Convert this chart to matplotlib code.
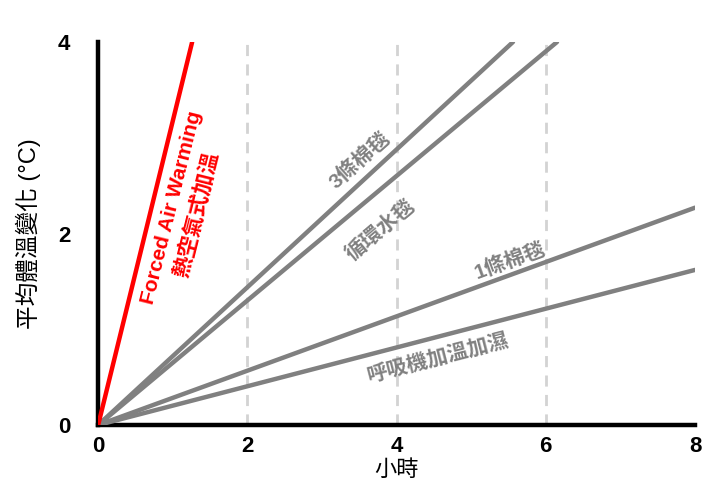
import matplotlib
matplotlib.use("Agg")
import matplotlib.pyplot as plt

# lines start at origin, end points
series_names = ["Forced Air Warming", "3條棉毯", "循環水毯", "1條棉毯", "呼吸機加溫加濕"]
end_hours = [1.26, 5.56, 6.15, 8.0, 8.0]
end_temps = [4.0, 4.0, 4.0, 2.27, 1.62]
series_colors = ["#ff0000", "#808080", "#808080", "#808080", "#808080"]

x_ticks = [0, 2, 4, 6, 8]
y_ticks = [0, 2, 4]
grid_x = [2, 4, 6]

fam = ["Liberation Sans", "Noto Sans CJK TC", "DejaVu Sans"]
plt.rcParams["font.family"] = fam

fig = plt.figure(figsize=(7.27, 4.83), dpi=100)
ax = fig.add_axes([0.135, 0.12, 0.821, 0.793])

for gx in grid_x:
    ax.axvline(gx, color="#d3d3d3", lw=2, ls=(0, (4, 3)), zorder=0)

# gray lines first, red on top
for i in [1, 2, 3, 4, 0]:
    ax.plot([0, end_hours[i]], [0, end_temps[i]], color=series_colors[i],
            lw=3.2, solid_capstyle="round", zorder=3)

ax.set_xlim(0, 8)
ax.set_ylim(0, 4)
ax.set_xticks(x_ticks)
ax.set_yticks(y_ticks)
ax.tick_params(length=0, labelsize=16)
ax.tick_params(axis="y", pad=20)
ax.tick_params(axis="x", pad=8)
for lab in ax.get_xticklabels() + ax.get_yticklabels():
    lab.set_fontweight("bold")
for s in ["top", "right"]:
    ax.spines[s].set_visible(False)
for s in ["left", "bottom"]:
    ax.spines[s].set_linewidth(3.2)
    ax.spines[s].set_color("black")
ax.set_ylabel("平均體溫變化 (°C)", fontsize=17, labelpad=12)
ax.set_xlabel("小時", fontsize=16, labelpad=2)

# labels along the lines
ax.text(0.99, 2.27, "Forced Air Warming", color="#ff0000", fontsize=15,
        fontweight="bold", rotation=76, ha="center", va="center")
ax.text(1.33, 2.2, "熱空氣式加溫", color="#ff0000", fontsize=15.5,
        fontweight="semibold", rotation=76, ha="center", va="center")
ax.text(3.51, 2.77, "3條棉毯", color="#808080", fontsize=15,
        fontweight="semibold", rotation=42, ha="center", va="center")
ax.text(3.79, 2.04, "循環水毯", color="#808080", fontsize=15,
        fontweight="semibold", rotation=40, ha="center", va="center")
ax.text(5.52, 1.72, "1條棉毯", color="#808080", fontsize=15,
        fontweight="semibold", rotation=20, ha="center", va="center")
ax.text(4.56, 0.70, "呼吸機加溫加濕", color="#808080", fontsize=15,
        fontweight="semibold", rotation=14.5, ha="center", va="center")

fig.savefig("out.png", dpi=100)
